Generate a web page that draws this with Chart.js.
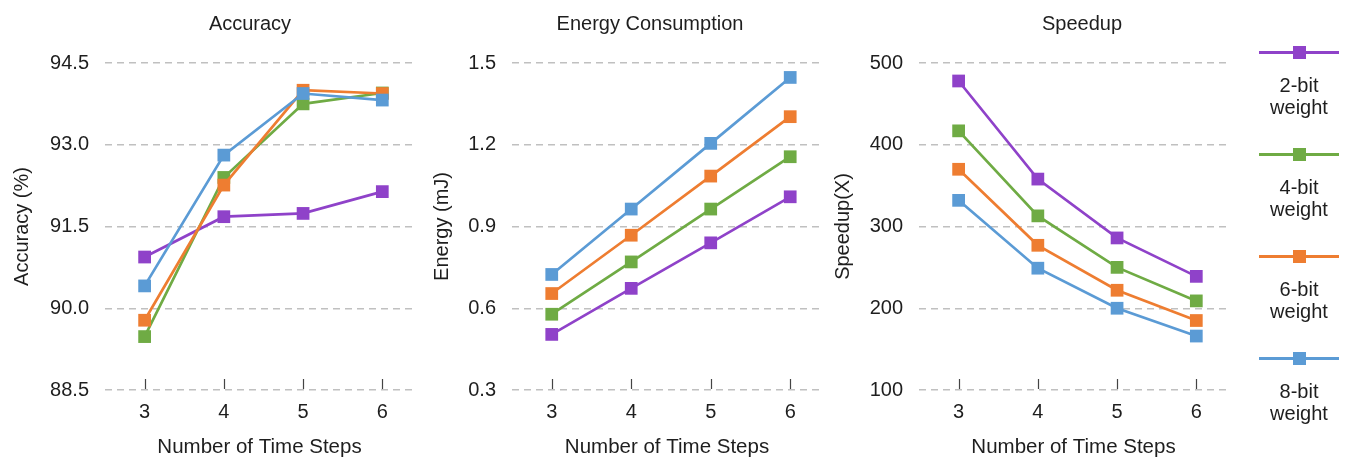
<!DOCTYPE html>
<html>
<head>
<meta charset="utf-8">
<script src="https://cdn.jsdelivr.net/npm/chart.js@4.4.1/dist/chart.umd.min.js"></script>
<style>
  body { margin: 0; background: #fff; width: 1347px; height: 459px; overflow: hidden; position: relative; font-family: "Liberation Sans", Arial, sans-serif; color: #1e1e1e; }
  .box { position: absolute; top: 0; height: 459px; }
  .ttl { position: absolute; top: 11px; width: 300px; text-align: center; font-size: 20px; line-height: 24px; }
  .leg { position: absolute; left: 1259px; width: 80px; }
  .leg .line { position: absolute; left: 0; width: 80px; height: 3px; top: -1.5px; }
  .leg .mark { position: absolute; left: 34px; width: 13px; height: 13px; top: -6.5px; }
  .leg .txt { position: absolute; left: -10px; width: 100px; top: 22px; text-align: center; font-size: 20px; line-height: 22px; }
</style>
</head>
<body>
<div class="box" style="left:0;width:501px"><canvas id="c1"></canvas></div>
<div class="box" style="left:420px;width:460px"><canvas id="c2"></canvas></div>
<div class="box" style="left:821px;width:522px"><canvas id="c3"></canvas></div>
<div class="ttl" style="left:100px">Accuracy</div>
<div class="ttl" style="left:500px">Energy Consumption</div>
<div class="ttl" style="left:932px">Speedup</div>
<div id="legend"></div>
<script>
// data
const steps = [3, 4, 5, 6];
const weights = ["2-bit", "4-bit", "6-bit", "8-bit"];
const colors = ["#8f42c9", "#6fab44", "#ee7d31", "#5b9bd5"];

const acc2 = [90.94, 91.68, 91.74, 92.14];
const acc4 = [89.48, 92.40, 93.75, 93.95];
const acc6 = [89.78, 92.26, 94.00, 93.94];
const acc8 = [90.41, 92.81, 93.94, 93.82];
const accTicks = [88.5, 90.0, 91.5, 93.0, 94.5];

const en2 = [0.504, 0.673, 0.840, 1.009];
const en4 = [0.578, 0.770, 0.964, 1.156];
const en6 = [0.654, 0.868, 1.085, 1.303];
const en8 = [0.724, 0.964, 1.205, 1.447];
const enTicks = [0.3, 0.6, 0.9, 1.2, 1.5];

const sp2 = [478, 358, 286, 239];
const sp4 = [417, 313, 250, 209];
const sp6 = [370, 277, 222, 185];
const sp8 = [332, 249, 200, 166];
const spTicks = [100, 200, 300, 400, 500];

Chart.defaults.font.family = '"Liberation Sans", Arial, sans-serif';
Chart.defaults.font.size = 20;
Chart.defaults.color = "#1e1e1e";

// little vertical ticks above the bottom grid line
const tickMarks = {
  id: "tickMarks",
  beforeDatasetsDraw(chart) {
    const x = chart.scales.x, area = chart.chartArea, ctx = chart.ctx;
    ctx.save();
    ctx.strokeStyle = "#444";
    ctx.lineWidth = 1.2;
    x.ticks.forEach(t => {
      const px = Math.round(x.getPixelForValue(t.value)) + 0.5;
      ctx.beginPath();
      ctx.moveTo(px, area.bottom - 11);
      ctx.lineTo(px, area.bottom - 1);
      ctx.stroke();
    });
    ctx.restore();
  }
};

function makeChart(id, yTitle, series, yTicks, digits, yWidth, padRight) {
  new Chart(document.getElementById(id), {
    type: "line",
    data: {
      datasets: series.map((vals, i) => ({
        label: weights[i] + " weight",
        data: steps.map((s, j) => ({ x: s, y: vals[j] })),
        borderColor: colors[i],
        backgroundColor: colors[i],
        pointBackgroundColor: colors[i],
        pointBorderColor: colors[i],
        borderWidth: 2.7,
        pointStyle: "rect",
        pointRadius: 9,
        pointBorderWidth: 0,
        tension: 0,
        order: series.length - i
      }))
    },
    options: {
      responsive: true,
      maintainAspectRatio: false,
      animation: false,
      layout: { padding: { left: 0, right: padRight, top: 63, bottom: 0 } },
      plugins: {
        legend: { display: false },
        tooltip: { enabled: false }
      },
      scales: {
        x: {
          type: "linear", min: 2.5, max: 6.4,
          afterBuildTicks: s => { s.ticks = steps.map(v => ({ value: v })); },
          afterFit: s => { s.height = 69; },
          grid: { display: false },
          border: { display: false },
          ticks: { padding: 2, callback: v => String(v) },
          title: { display: true, text: "Number of Time Steps", font: { size: 20.5, lineHeight: 1.1 }, padding: { top: 0, bottom: 0 } }
        },
        y: {
          min: yTicks[0], max: yTicks[yTicks.length - 1],
          afterBuildTicks: s => { s.ticks = yTicks.map(v => ({ value: v })); },
          afterFit: s => { s.width = yWidth; },
          grid: { color: "#c0c0c0", lineWidth: 1.5, drawTicks: false },
          border: { display: false, dash: [7, 5] },
          ticks: { padding: 16, callback: v => v.toFixed(digits) },
          title: { display: true, text: yTitle, padding: { top: 10, bottom: 0 } }
        }
      }
    },
    plugins: [tickMarks]
  });
}

makeChart("c1", "Accuracy (%)", [acc2, acc4, acc6, acc8], accTicks, 1, 105, 87);
makeChart("c2", "Energy (mJ)", [en2, en4, en6, en8], enTicks, 1, 92, 58);
makeChart("c3", "Speedup(X)", [sp2, sp4, sp6, sp8], spTicks, 0, 98, 115);

// legend on the right
const legend = document.getElementById("legend");
const legendY = [52, 154, 256, 358];
weights.forEach((w, i) => {
  const d = document.createElement("div");
  d.className = "leg";
  d.style.top = legendY[i] + "px";
  d.innerHTML = '<div class="line" style="background:' + colors[i] + '"></div>' +
    '<div class="mark" style="background:' + colors[i] + '"></div>' +
    '<div class="txt">' + w + '<br>weight</div>';
  legend.appendChild(d);
});
</script>
</body>
</html>
